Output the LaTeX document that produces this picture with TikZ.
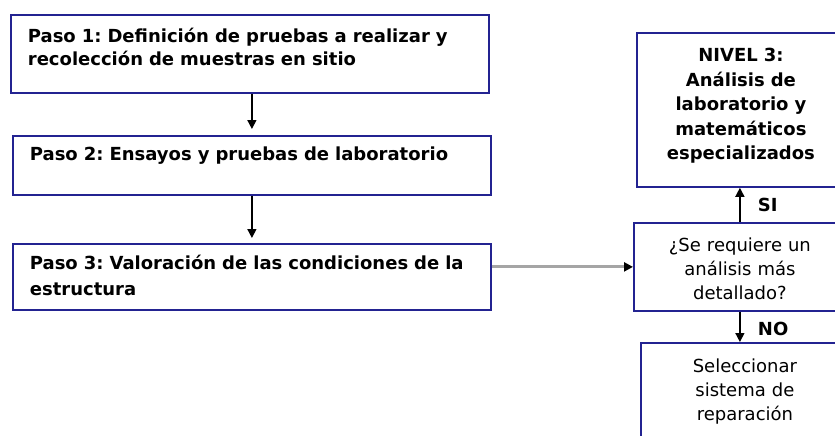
\documentclass[tikz,border=0pt]{standalone}
\usepackage{fontspec}
\setmainfont{DejaVu Sans}
\usetikzlibrary{arrows.meta}
\definecolor{azul}{RGB}{35,35,145}
\definecolor{grisflecha}{RGB}{165,165,165}
\tikzset{
  caja/.style={draw=azul, line width=1.8pt, anchor=north west, inner ysep=0pt},
  paso/.style={caja, text width=444pt, inner xsep=17pt, align=left,
    font=\frenchspacing\bfseries\fontsize{18}{23}\selectfont},
  nivel/.style={caja, text width=190pt, inner xsep=9pt, align=center,
    font=\fontsize{18}{24}\selectfont},
  etiqueta/.style={right=14pt, font=\bfseries\fontsize{18}{20}\selectfont},
  flecha/.style={-{Triangle[length=9pt,width=9pt]}, line width=1.5pt}
}
\begin{document}
\begin{tikzpicture}[x=1pt,y=-1pt] %Diagrama de niveles de evaluacion
    \useasboundingbox (0,0) rectangle (835,436);
    \clip (0,0) rectangle (835,436);

    \coordinate (P1) at (10,14);
    \coordinate (P2) at (12,135);
    \coordinate (P3) at (12,243);
    \coordinate (N3) at (636,32);
    \coordinate (Q) at (633,222);
    \coordinate (R) at (640,342);

    \node[paso, text height=28pt, text depth=50pt] (paso1) at (P1)
        {Paso 1: Definición de pruebas a realizar y\\recolección de muestras en sitio};
    \node[paso, text height=25pt, text depth=34pt] (paso2) at (P2)
        {Paso 2: Ensayos y pruebas de laboratorio};
    \node[paso, text height=26pt, text depth=40pt,
          font=\frenchspacing\bfseries\fontsize{18}{26}\selectfont] (paso3) at (P3)
        {Paso 3: Valoración de las condiciones de la\\estructura};

    \node[nivel, minimum width=208pt, text height=29pt, text depth=125pt,
          font=\bfseries\fontsize{18}{24.5}\selectfont] (nivel3) at (N3)
        {NIVEL 3:\\Análisis de\\laboratorio y\\matemáticos\\especializados};
    \node[nivel, minimum width=212pt, text height=29pt, text depth=59pt] (pregunta) at (Q)
        {¿Se requiere un\\análisis más\\detallado?};
    \node[nivel, minimum width=204pt, text height=30pt, text depth=68pt] (reparar) at (R)
        {Seleccionar\\sistema de\\reparación};

    \draw[flecha, shorten >=6pt] (paso1.south -| paso2.north) -- (paso2.north);
    \draw[flecha, shorten >=5pt] (paso2) -- (paso3);
    \draw[draw=grisflecha, line width=3pt, -{Triangle[length=9pt,width=9pt,color=black]}]
        (paso3.east |- pregunta.west) -- (pregunta.west);
    \draw[flecha] (pregunta.north) -- node[etiqueta] {SI} (nivel3.south -| pregunta.north);
    \draw[flecha] (pregunta.south) -- node[etiqueta, yshift=-2pt] {NO} (reparar.north -| pregunta.south);
\end{tikzpicture}
\end{document}
